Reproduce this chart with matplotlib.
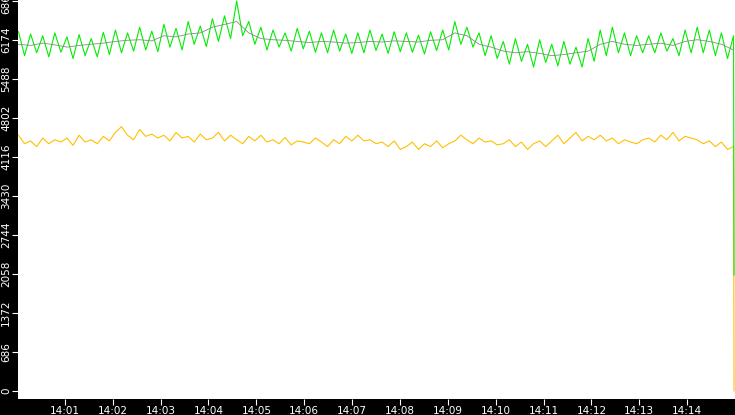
import numpy as np
import matplotlib
matplotlib.use('Agg')
import matplotlib.pyplot as plt

# minutes after 14:00
green = [6320,5900,6280,5950,6250,5880,6300,5960,
         6230,5850,6270,5900,6200,5880,6310,5920,
         6350,5950,6300,5980,6400,6000,6330,5970,
         6450,6050,6380,6000,6500,6100,6420,6060,
         6550,6150,6600,6200,6861,6250,6500,6100,
         6400,6000,6350,6050,6300,5980,6380,6020,
         6330,5960,6300,5950,6350,5980,6280,5940,
         6300,5950,6350,5990,6280,5940,6320,5970,
         6300,5960,6260,5930,6320,5990,6350,6000,
         6500,6100,6400,6050,6300,5900,6250,5850,
         6150,5750,6200,5800,6100,5700,6180,5780,
         6100,5720,6150,5750,6050,5700,6200,5800,
         6350,5900,6400,5950,6300,5900,6250,5950,
         6250,5950,6300,5980,6200,5900,6350,5950,
         6400,5950,6350,5900,6300,5850,6250,2040]
yellow = [4500,4350,4400,4300,4450,4350,4420,4380,
          4450,4320,4500,4380,4420,4350,4480,4400,
          4550,4650,4500,4420,4600,4480,4520,4450,
          4500,4400,4550,4450,4480,4380,4520,4420,
          4450,4550,4400,4500,4420,4350,4480,4400,
          4500,4380,4420,4350,4460,4330,4400,4380,
          4350,4450,4380,4300,4420,4350,4480,4400,
          4500,4400,4420,4350,4380,4300,4400,4250,
          4300,4380,4250,4350,4300,4400,4280,4350,
          4400,4500,4420,4350,4450,4380,4400,4330,
          4350,4420,4300,4380,4250,4350,4400,4300,
          4400,4500,4350,4450,4550,4400,4480,4420,
          4500,4400,4450,4350,4420,4380,4350,4420,
          4450,4380,4500,4420,4550,4400,4480,4450,
          4420,4350,4400,4300,4380,4250,4300,0]
gray = [6100,6080,6120,6090, 6050,6080,6100,6120, 6150,6170,6180,6160,
        6250,6230,6280,6300, 6400,6450,6500,6300, 6200,6180,6170,6150,
        6130,6150,6140,6120, 6130,6150,6140,6160, 6150,6140,6170,6180,
        6300,6250,6100,6050, 5980,5950,5970,5940, 5900,5920,5950,5980,
        6100,6150,6100,6080, 6100,6120,6080,6150, 6180,6150,6100,6000]
yticks = [0, 686, 1372, 2058, 2744, 3430, 4116, 4802, 5488, 6174, 6861]
xticks = list(range(1, 15))
xlabels = ['14:%02d' % m for m in xticks]

# last sample sits right at the end, so the drop is vertical
t_fast = np.append(np.linspace(0.03, 14.97, len(green) - 1), 14.98)
t_gray = np.linspace(0.03, 14.97, len(gray))

fig = plt.figure(figsize=(7.35, 4.15), dpi=100, facecolor='black')
ax = fig.add_axes([18/735, 16/415, 717/735, 399/415])
ax.set_facecolor('white')
ax.plot(t_fast, yellow, color='#ffc000', lw=0.8)
ax.plot(t_fast, green, color='#00ee00', lw=0.8)
ax.plot(t_gray, gray, color='#888888', lw=0.6)
ax.set_xlim(0.02, 15.0)
ax.set_ylim(-141, 6879)
ax.set_xticks(xticks)
ax.set_xticklabels(xlabels)
ax.set_yticks(yticks)
ax.set_yticklabels([str(v) for v in yticks], rotation=90, va='center')
ax.tick_params(colors='white', labelsize=7.5, length=4, pad=1)
for s in ax.spines.values():
    s.set_visible(False)
fig.savefig('out.png', dpi=100, facecolor='black')
